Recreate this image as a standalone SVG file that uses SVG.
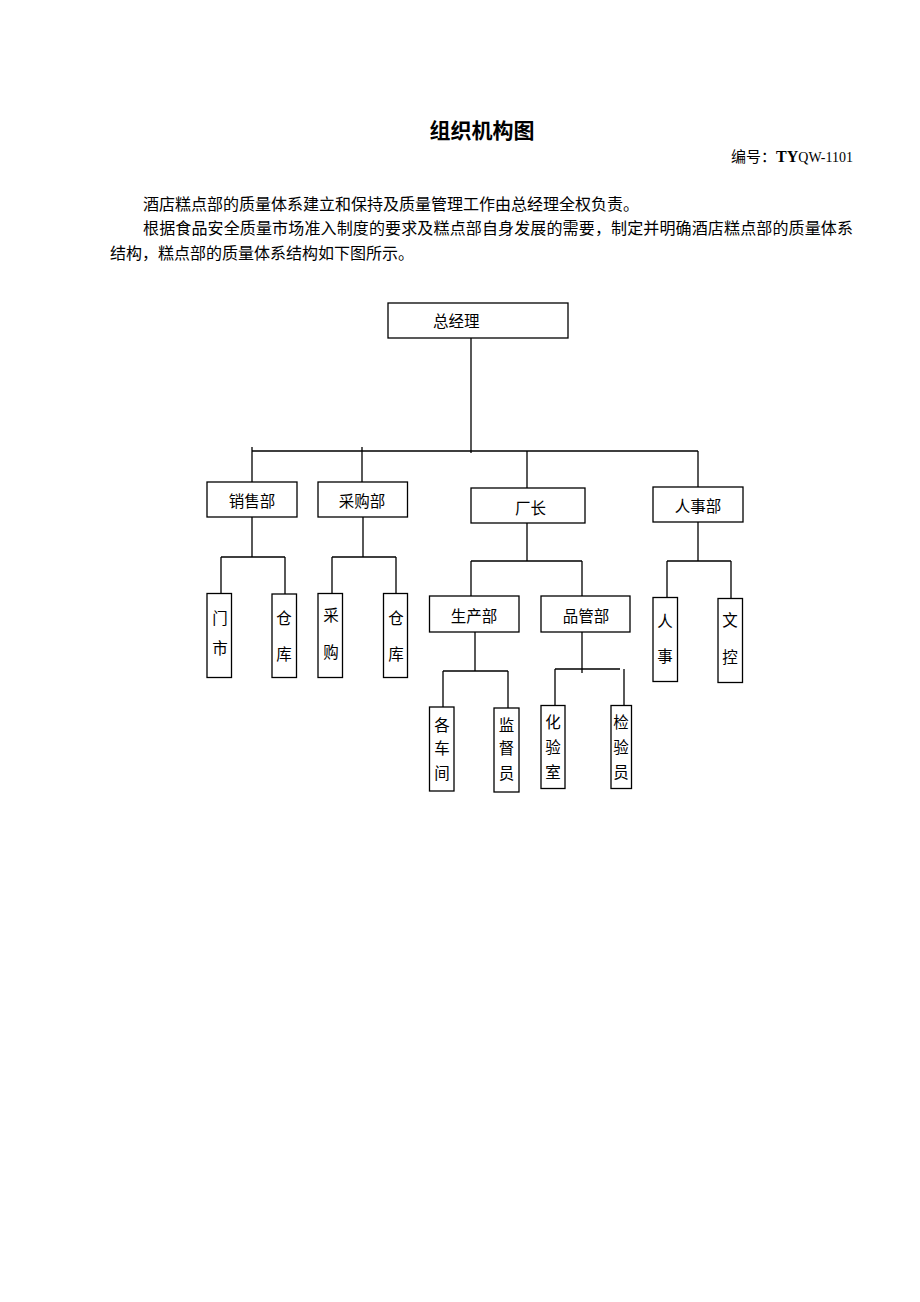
<svg xmlns="http://www.w3.org/2000/svg" width="920" height="1302" viewBox="0 0 920 1302">
<style>
.t{font-family:"Noto Sans CJK SC","Liberation Serif",sans-serif;fill:#000}
.lbl{font-size:15.5px;text-anchor:middle}
.box{fill:#fff;stroke:#000;stroke-width:1.3}
.ln{stroke:#000;stroke-width:1.3;fill:none}
</style>
<rect width="920" height="1302" fill="#fff"/>
<g id="header">
<text class="t" x="482" y="138" font-size="21" font-weight="bold" text-anchor="middle">组织机构图</text>
<text class="t" x="853" y="162" font-size="15" text-anchor="end">编号：<tspan font-family="Liberation Serif" font-weight="bold" font-size="16">TY</tspan><tspan font-family="Liberation Serif" font-size="14">QW-1101</tspan></text>
<text class="t" x="143" y="210" font-size="16">酒店糕点部的质量体系建立和保持及质量管理工作由总经理全权负责。</text>
<text class="t" x="143" y="234" font-size="16" textLength="710" lengthAdjust="spacing">根据食品安全质量市场准入制度的要求及糕点部自身发展的需要，制定并明确酒店糕点部的质量体系</text>
<text class="t" x="110" y="259" font-size="16">结构，糕点部的质量体系结构如下图所示。</text>
</g>
<g id="connectors" class="ln">
<path d="M471 338V453M252 451H698M252 447V482M362 447V482M527 451V488M698 451V487"/>
<path d="M252 517V557M221 557H285M221 557V593M285 557V594"/>
<path d="M363 517V557M332 557H396M332 557V593M396 557V593"/>
<path d="M527 523V561M471 561H582M471 561V596M582 561V596"/>
<path d="M698 522V561M667 561H731M667 561V597M731 561V598"/>
<path d="M475 632V671M443 671H508M443 671V707M508 671V708"/>
<path d="M582 632V673M555 669H620M555 669V705M624 669V705"/>
</g>
<g id="n-gm"><rect class="box" x="388" y="303" width="180" height="35"/><text class="t" x="433" y="327" font-size="15.5">总经理</text></g>
<g id="n-sales"><rect class="box" x="207" y="482" width="90" height="35"/><text class="t lbl" x="252" y="507">销售部</text></g>
<g id="n-purch"><rect class="box" x="318" y="482" width="89.5" height="35"/><text class="t lbl" x="362" y="507">采购部</text></g>
<g id="n-factory"><rect class="box" x="471" y="488" width="114" height="35"/><text class="t" x="515" y="514" font-size="15.5">厂长</text></g>
<g id="n-hr"><rect class="box" x="653" y="487" width="90" height="35"/><text class="t lbl" x="698" y="512">人事部</text></g>
<g id="n-prod"><rect class="box" x="429.5" y="596" width="89.5" height="36"/><text class="t lbl" x="474" y="622">生产部</text></g>
<g id="n-qc"><rect class="box" x="541" y="596" width="89" height="36"/><text class="t lbl" x="586" y="622">品管部</text></g>
<g id="n-store"><rect class="box" x="207" y="593.5" width="24.5" height="84"/><text class="t lbl" x="220" y="624">门</text><text class="t lbl" x="220" y="654">市</text></g>
<g id="n-wh1"><rect class="box" x="272" y="594" width="24.5" height="83.5"/><text class="t lbl" x="284" y="624">仓</text><text class="t lbl" x="284" y="660">库</text></g>
<g id="n-buy"><rect class="box" x="318" y="593.5" width="24.5" height="84"/><text class="t lbl" x="331" y="621">采</text><text class="t lbl" x="331" y="658">购</text></g>
<g id="n-wh2"><rect class="box" x="383.5" y="593.5" width="24" height="84"/><text class="t lbl" x="396" y="624">仓</text><text class="t lbl" x="396" y="660">库</text></g>
<g id="n-person"><rect class="box" x="653" y="597.5" width="24.5" height="84"/><text class="t lbl" x="665" y="627">人</text><text class="t lbl" x="665" y="662">事</text></g>
<g id="n-doc"><rect class="box" x="718" y="598.5" width="24.5" height="84"/><text class="t lbl" x="730" y="626">文</text><text class="t lbl" x="730" y="663">控</text></g>
<g id="n-ws"><rect class="box" x="429.5" y="707" width="24.5" height="84"/><text class="t lbl" x="442" y="731">各</text><text class="t lbl" x="442" y="754">车</text><text class="t lbl" x="442" y="779">间</text></g>
<g id="n-sup"><rect class="box" x="494" y="708" width="25" height="84"/><text class="t lbl" x="506.5" y="731">监</text><text class="t lbl" x="506.5" y="754">督</text><text class="t lbl" x="506.5" y="779">员</text></g>
<g id="n-lab"><rect class="box" x="541" y="705.5" width="24" height="83"/><text class="t lbl" x="553" y="728">化</text><text class="t lbl" x="553" y="753">验</text><text class="t lbl" x="553" y="778">室</text></g>
<g id="n-insp"><rect class="box" x="611" y="705.5" width="20.5" height="83"/><text class="t lbl" x="621" y="728">检</text><text class="t lbl" x="621" y="753">验</text><text class="t lbl" x="621" y="778">员</text></g>
</svg>
